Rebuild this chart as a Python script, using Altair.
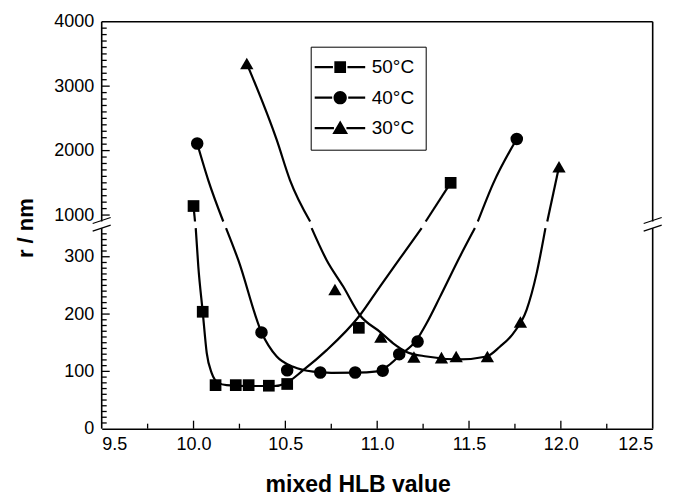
import altair as alt
import pandas as pd

FONT = "Liberation Sans"
SERIES = ["50°C", "40°C", "30°C"]

# Broken y axis: 0-350 below the break, 900-4000 above it
BREAK_LO, BREAK_HI = 350, 900
Y_DOMAIN = [0, BREAK_LO, BREAK_HI, 4000]
W, H = 551, 407
Y_RANGE = [H, 206.4, 199.8, 0]
X_MIN, X_MAX = 9.5, 12.5

# Measured droplet radius vs mixed HLB value
hlb_50 = [10.00, 10.05, 10.12, 10.23, 10.30, 10.41, 10.51, 10.90, 11.40]
r_50 = [1140, 204, 76, 76, 76, 75, 78, 176, 1500]
hlb_40 = [10.02, 10.37, 10.51, 10.69, 10.88, 11.03, 11.12, 11.22, 11.76]
r_40 = [2110, 168, 102, 98, 98, 101, 130, 152, 2180]
hlb_30 = [10.29, 10.77, 11.02, 11.20, 11.35, 11.43, 11.60, 11.78, 11.99]
r_30 = [3350, 243, 160, 125, 124, 126, 126, 186, 1750]

# Fitted curves, split into pieces above and below the axis break
fit_50 = [
    ([10.00, 10.008], [1140, 900]),
    ([10.012, 10.026, 10.05, 10.072, 10.099, 10.135, 10.18, 10.30, 10.44,
      10.50, 10.597, 10.725, 10.906, 11.015, 11.124, 11.242],
     [350, 283, 204, 132, 97, 80, 76, 74.5, 74.5, 79, 102, 137, 198, 248, 297, 350]),
    ([11.264, 11.40], [900, 1500]),
]
fit_40 = [
    ([10.02, 10.08, 10.162], [2110, 1543, 900]),
    ([10.177, 10.244, 10.371, 10.453, 10.543, 10.652, 10.75, 10.88, 11.00,
      11.06, 11.124, 11.215, 11.269, 11.342, 11.45, 11.532],
     [350, 294, 167.5, 126, 108, 99.5, 97.5, 97.7, 100, 110, 128, 155, 184,
      230, 300, 350]),
    ([11.548, 11.632, 11.76], [900, 1492, 2180]),
]
fit_30 = [
    ([10.29, 10.453, 10.525, 10.635], [3350, 2165, 1543, 900]),
    ([10.643, 10.725, 10.815, 10.906, 11.015, 11.087, 11.16, 11.27, 11.45,
      11.596, 11.668, 11.74, 11.813, 11.868, 11.904, 11.916],
     [350, 294, 248, 198, 169, 149, 134, 126, 121, 126, 143, 166, 207, 271,
      329, 350]),
    ([11.926, 11.99], [900, 1750]),
]

# Axis ticks
x_major = [9.5, 10.0, 10.5, 11.0, 11.5, 12.0, 12.5]
x_minor = [9.75, 10.25, 10.75, 11.25, 11.75, 12.25]
y_labels = [0, 100, 200, 300, 1000, 2000, 3000, 4000]
y_minor = [v for v in range(10, BREAK_LO, 10) if v % 100] + \
          [v for v in range(1100, 4000, 100) if v % 1000]

points = pd.DataFrame(
    [{"series": s, "hlb": x, "r": y}
     for s, xs, ys in zip(SERIES, [hlb_50, hlb_40, hlb_30], [r_50, r_40, r_30])
     for x, y in zip(xs, ys)]
)
curve_rows = []
for s, pieces in zip(SERIES, [fit_50, fit_40, fit_30]):
    for k, (xs, ys) in enumerate(pieces):
        for i, (x, y) in enumerate(zip(xs, ys)):
            curve_rows.append({"series": s, "piece": f"{s}-{k}", "i": i, "hlb": x, "r": y})
curves = pd.DataFrame(curve_rows)

x_scale = alt.Scale(domain=[X_MIN, X_MAX], nice=False, zero=False)
y_scale = alt.Scale(domain=Y_DOMAIN, range=Y_RANGE, nice=False, zero=False)

X = alt.X("hlb:Q", scale=x_scale, axis=alt.Axis(
    values=x_major, format=".1f", tickSize=0, domain=True, domainColor="black",
    domainWidth=1.6, labelPadding=7, labelFontSize=18, grid=False,
    title="mixed HLB value", titleFontSize=23, titleFontWeight="bold",
    titleX=256, titleY=63, titleBaseline="alphabetic", titleAlign="center"))
Y = alt.Y("r:Q", scale=y_scale, axis=alt.Axis(
    values=y_labels, format="d", tickSize=0, domain=False, labelPadding=8,
    labelFontSize=18, grid=False, title="r / nm", titleFontSize=22,
    titleFontWeight="bold", titleX=-69.5, titleY=206, titleAlign="center",
    titleBaseline="alphabetic"))

lines = alt.Chart(curves).mark_line(
    interpolate="monotone", color="black", strokeWidth=2.2
).encode(x=X, y=Y, detail="piece:N", order="i:Q")

markers = alt.Chart(points).mark_point(filled=True, color="black", opacity=1).encode(
    x=alt.X("hlb:Q", scale=x_scale),
    y=alt.Y("r:Q", scale=y_scale),
    shape=alt.Shape("series:N", scale=alt.Scale(
        domain=SERIES, range=["square", "circle", "triangle-up"]), legend=None),
    size=alt.Size("series:N", scale=alt.Scale(domain=SERIES, range=[137, 177, 240]), legend=None),
)

# Legend symbols: line - marker - line, drawn as filled outlines
def dashes(gap):
    return (f"M-5.1,-0.22H-{gap}V0.22H-5.1Z"
            f"M{gap},-0.22H5V0.22H{gap}Z")

SQ = dashes(1.45) + "M-1.17,-1.17H1.17V1.17H-1.17Z"
CI = dashes(1.6) + "M-1.33,0A1.33,1.33,0,1,1,1.33,0A1.33,1.33,0,1,1,-1.33,0Z"
TR = dashes(1.25) + "M0,-1.55L1.57,1.15L-1.57,1.15Z"
legend_layer = alt.Chart(points).transform_filter("false").mark_point(
    filled=True, color="black", opacity=1
).encode(
    shape=alt.Shape("series:N", scale=alt.Scale(domain=SERIES, range=[SQ, CI, TR]),
                    legend=alt.Legend(
                        title=None, orient="none", legendX=209, legendY=25,
                        padding=11, strokeColor="black",
                        fillColor="white", symbolSize=100, symbolOffset=9,
                        symbolFillColor="black", symbolStrokeWidth=0,
                        symbolOpacity=1, labelOffset=22, labelFontSize=19,
                        labelFont=FONT, labelColor="black", rowPadding=10.5)),
)

FRAME = dict(color="black", strokeWidth=1.6)
frame = [
    alt.Chart().mark_rule(**FRAME).encode(
        x=alt.datum(X_MIN, scale=x_scale), x2=alt.datum(X_MAX), y=alt.datum(4000, scale=y_scale)),
]
for xv in (X_MIN, X_MAX):
    for lo, hi in ((0, BREAK_LO), (BREAK_HI, 4000)):
        frame.append(alt.Chart().mark_rule(**FRAME).encode(
            x=alt.datum(xv), y=alt.datum(lo), y2=alt.datum(hi)))
    for yv, dy in ((BREAK_HI, -1), (BREAK_LO, 0)):
        frame.append(alt.Chart().mark_rule(
            color="black", strokeWidth=1.3, xOffset=-9, x2Offset=9,
            yOffset=3 + dy, y2Offset=-3 + dy).encode(
            x=alt.datum(xv), x2=alt.datum(xv), y=alt.datum(yv), y2=alt.datum(yv)))

# Inward tick marks
TICK = dict(color="black", strokeWidth=1.3)
xt_major = alt.Chart(pd.DataFrame({"t": x_major[1:-1]})).mark_rule(**TICK).encode(
    x=alt.X("t:Q", scale=x_scale), y=alt.value(H), y2=alt.value(H - 8))
xt_minor = alt.Chart(pd.DataFrame({"t": x_minor})).mark_rule(**TICK).encode(
    x=alt.X("t:Q", scale=x_scale), y=alt.value(H), y2=alt.value(H - 5))
yt_major = alt.Chart(pd.DataFrame({"t": y_labels[1:-1]})).mark_rule(**TICK).encode(
    y=alt.Y("t:Q", scale=y_scale), x=alt.value(0), x2=alt.value(8))
yt_minor = alt.Chart(pd.DataFrame({"t": y_minor})).mark_rule(**TICK).encode(
    y=alt.Y("t:Q", scale=y_scale), x=alt.value(0), x2=alt.value(5))

chart = alt.layer(
    lines, *frame, xt_major, xt_minor, yt_major, yt_minor, markers, legend_layer
).resolve_scale(shape="independent", size="independent").properties(
    width=W, height=H,
    autosize=alt.AutoSizeParams(type="none"),
    padding={"left": 101.7, "top": 21.7, "right": 20, "bottom": 71},
    background="white",
).configure_view(stroke=None).configure_axis(
    labelFont=FONT, titleFont=FONT, labelColor="black", titleColor="black",
).configure_legend(strokeWidth=1)

chart.save("out.html", embed_options={"renderer": "svg", "actions": False})
